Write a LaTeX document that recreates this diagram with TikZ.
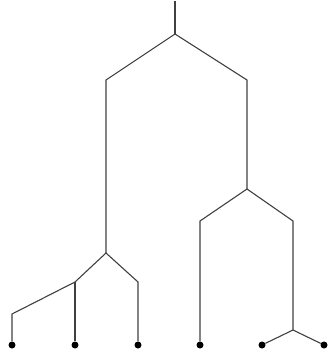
\documentclass[tikz,border=0pt]{standalone}
\begin{document}
\begin{tikzpicture}[x=1pt,y=-1pt,
  edge/.style={draw=black!75,line width=1.1pt},
  leaf/.style={circle,fill=black,inner sep=0pt,minimum size=7pt}]
\useasboundingbox (0,0) rectangle (328,356);
\coordinate (top) at (175,1);
\coordinate (r) at (175,34);
\coordinate (a) at (106,80);
\coordinate (b) at (247,80);
\coordinate (a1) at (106,253);
\coordinate (c) at (75,282);
\coordinate (d) at (138,282);
\coordinate (c1) at (12,314);
\coordinate (b1) at (247,189);
\coordinate (e) at (200,221);
\coordinate (f) at (293,221);
\coordinate (f1) at (293,330);
\node[leaf] (l1) at (12,345) {};
\node[leaf] (l2) at (75,345) {};
\node[leaf] (l3) at (138,345) {};
\node[leaf] (l4) at (200,345) {};
\node[leaf] (l5) at (262,345) {};
\node[leaf] (l6) at (324,345) {};
\draw[edge] (top) -- (r);
\draw[edge] (a1) -- (a) -- (r) -- (b) -- (b1);
\draw[edge] (l1) -- (c1) -- (c) -- (a1) -- (d) -- (l3);
\draw[edge] (c) -- (l2);
\draw[edge] (l4) -- (e) -- (b1) -- (f) -- (f1);
\draw[edge] (l5) -- (f1) -- (l6);
\end{tikzpicture}
\end{document}
